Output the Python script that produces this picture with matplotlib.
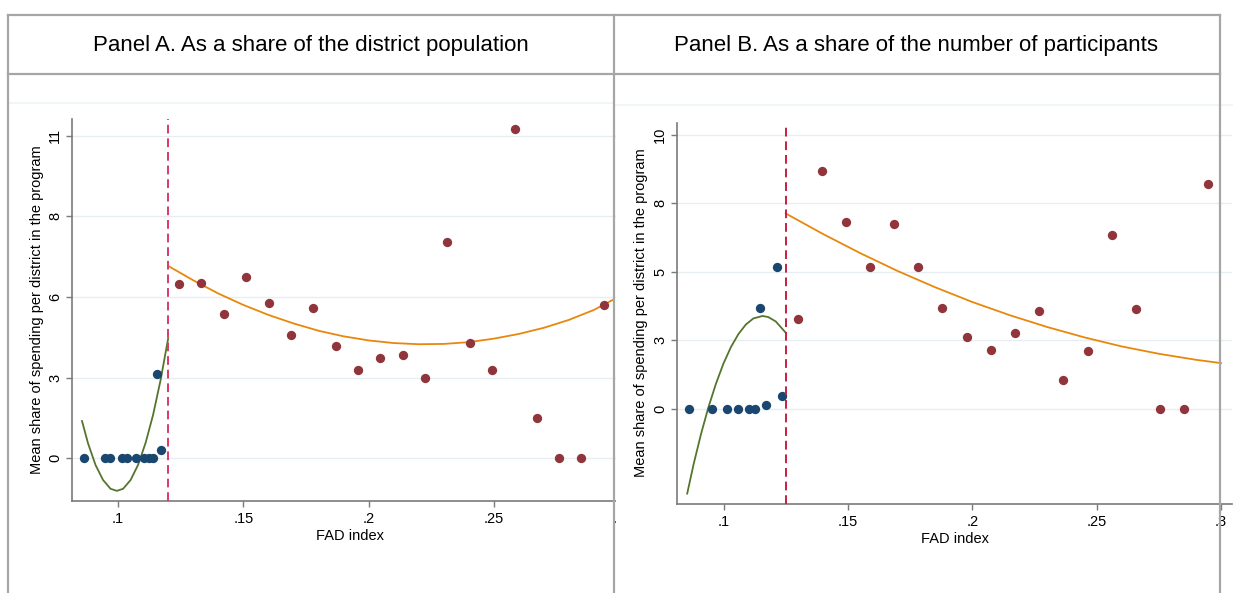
import numpy as np
import matplotlib.pyplot as plt
from matplotlib.lines import Line2D
from matplotlib.patches import Rectangle

plt.rcParams['font.family'] = ['Liberation Sans', 'DejaVu Sans']

# Panel A: share of district population
a_blue_x = [0.0864, 0.0949, 0.0968, 0.1017, 0.1036, 0.1071, 0.1104, 0.1123, 0.1140, 0.1156, 0.1173]
a_blue_y = [0, 0, 0, 0, 0, 0, 0, 0, 0, 2.86, 0.28]
a_red_x = [0.1243, 0.1332, 0.1423, 0.1511, 0.1601, 0.1690, 0.1779, 0.1869, 0.1958, 0.2047,
           0.2137, 0.2226, 0.2315, 0.2404, 0.2493, 0.2583, 0.2672, 0.2761, 0.2850, 0.2939]
a_red_y = [5.96, 5.98, 4.92, 6.19, 5.29, 4.22, 5.14, 3.83, 3.02, 3.43,
           3.53, 2.75, 7.39, 3.93, 3.00, 11.22, 1.39, 0, 0, 5.22]
a_left_fit_x = [0.0856, 0.088, 0.091, 0.094, 0.097, 0.0995, 0.102, 0.105, 0.108, 0.111, 0.114, 0.117, 0.120]
a_left_fit_y = [1.27, 0.51, -0.23, -0.74, -1.04, -1.11, -1.04, -0.74, -0.22, 0.53, 1.49, 2.68, 4.09]
a_right_fit_x = [0.120, 0.13, 0.14, 0.15, 0.16, 0.17, 0.18, 0.19, 0.20, 0.21, 0.22,
                 0.23, 0.24, 0.25, 0.26, 0.27, 0.28, 0.29, 0.2975]
a_right_fit_y = [6.56, 6.07, 5.62, 5.23, 4.89, 4.60, 4.35, 4.16, 4.02, 3.93, 3.89,
                 3.90, 3.96, 4.08, 4.24, 4.45, 4.72, 5.06, 5.40]
a_cutoff = 0.12
a_yticks = [0, 2.75, 5.5, 8.25, 11]
a_ylabels = ['0', '3', '6', '8', '11']

# Panel B: share of number of participants
b_blue_x = [0.0862, 0.0952, 0.1016, 0.1060, 0.1103, 0.1125, 0.1147, 0.1169, 0.1213, 0.1235]
b_blue_y = [0, 0, 0, 0, 0, 0, 3.67, 0.15, 5.18, 0.46]
b_red_x = [0.1298, 0.1394, 0.1491, 0.1588, 0.1685, 0.1783, 0.1879, 0.1977, 0.2074, 0.2172,
           0.2268, 0.2366, 0.2464, 0.2560, 0.2657, 0.2755, 0.2851, 0.2949]
b_red_y = [3.27, 8.66, 6.80, 5.17, 6.75, 5.17, 3.67, 2.63, 2.14, 2.76,
           3.56, 1.06, 2.10, 6.34, 3.64, 0, 0, 8.21]
b_left_fit_x = [0.0854, 0.088, 0.091, 0.094, 0.097, 0.100, 0.103, 0.106, 0.109, 0.112, 0.1157, 0.118, 0.121, 0.125]
b_left_fit_y = [-3.10, -2.02, -0.91, 0.07, 0.92, 1.65, 2.25, 2.72, 3.07, 3.29, 3.38, 3.34, 3.18, 2.77]
b_right_fit_x = [0.125, 0.14, 0.155, 0.17, 0.185, 0.20, 0.215, 0.23, 0.245, 0.26, 0.275, 0.29, 0.30]
b_right_fit_y = [7.12, 6.37, 5.67, 5.02, 4.43, 3.89, 3.41, 2.98, 2.60, 2.27, 2.00, 1.78, 1.66]
b_cutoff = 0.125
b_yticks = [0, 2.5, 5, 7.5, 10]
b_ylabels = ['0', '3', '5', '8', '10']

xticks = [0.1, 0.15, 0.2, 0.25, 0.3]
xlabels = ['.1', '.15', '.2', '.25', '.3']

navy = '#1a476f'
maroon = '#90353b'
green = '#55752f'
orange = '#e8870e'
frame = '#a6a6a6'
W, H = 1236, 593


def px_rect(left, top, right, bottom):
    return [left / W, 1 - bottom / H, (right - left) / W, (bottom - top) / H]


def draw_panel(ax, bx, by, rx, ry, lfx, lfy, rfx, rfy, cutoff, cut_color,
               yticks, ylabels, xlim, ylim):
    ax.set_xlim(*xlim)
    ax.set_ylim(*ylim)
    for t in yticks:
        ax.axhline(t, color='#e6eef1', linewidth=1.0, zorder=0)
    ax.plot(lfx, lfy, color=green, linewidth=1.3, zorder=2)
    ax.plot(rfx, rfy, color=orange, linewidth=1.3, zorder=2)
    ax.scatter(bx, by, s=45, color=navy, linewidths=0, zorder=3)
    ax.scatter(rx, ry, s=45, color=maroon, linewidths=0, zorder=3)
    ax.axvline(cutoff, color=cut_color, linewidth=1.4, linestyle=(0, (4.5, 2.5)), zorder=4)
    for s in ['top', 'right']:
        ax.spines[s].set_visible(False)
    for s in ['left', 'bottom']:
        ax.spines[s].set_color('#7a7a7a')
        ax.spines[s].set_linewidth(1.2)
    ax.set_yticks(yticks, ylabels, rotation=90, va='center')
    ax.set_xticks(xticks, xlabels)
    ax.tick_params(axis='both', colors='#7a7a7a', labelcolor='black', length=4,
                   width=1.0, labelsize=10.5)
    ax.tick_params(axis='y', pad=3)
    ax.tick_params(axis='x', pad=4)
    ax.set_facecolor('none')


fig = plt.figure(figsize=(W / 100, H / 100), dpi=100)

ax1 = fig.add_axes(px_rect(72, 119, 619, 501))
draw_panel(ax1, a_blue_x, a_blue_y, a_red_x, a_red_y, a_left_fit_x, a_left_fit_y,
           a_right_fit_x, a_right_fit_y, a_cutoff, '#d93a68', a_yticks, a_ylabels,
           (0.0816, 0.30), (-1.456, 11.57))

ax2 = fig.add_axes(px_rect(677, 123, 1232, 504))
draw_panel(ax2, b_blue_x, b_blue_y, b_red_x, b_red_y, b_left_fit_x, b_left_fit_y,
           b_right_fit_x, b_right_fit_y, b_cutoff, '#c61f3f', b_yticks, b_ylabels,
           (0.0813, 0.3044), (-3.48, 10.42))

# hide panel A overflow past the divider
fig.add_artist(Rectangle((616 / W, 0), 10 / W, 1 - 80 / H, transform=fig.transFigure,
                         facecolor='white', edgecolor='none', zorder=5))

ylab = 'Mean share of spending per district in the program'
fig.text(37 / W, 1 - 310 / H, ylab, rotation=90, ha='center', va='center', fontsize=10.5)
fig.text(641 / W, 1 - 313 / H, ylab, rotation=90, ha='center', va='center', fontsize=10.5)
fig.text(350 / W, 1 - 536 / H, 'FAD index', ha='center', va='center', fontsize=10.5)
fig.text(955 / W, 1 - 539 / H, 'FAD index', ha='center', va='center', fontsize=10.5)

fig.text(311 / W, 1 - 46 / H, 'Panel A. As a share of the district population',
         ha='center', va='center', fontsize=16)
fig.text(916 / W, 1 - 46 / H, 'Panel B. As a share of the number of participants',
         ha='center', va='center', fontsize=16)

# faint region edges below the header
fig.add_artist(Line2D([8 / W, 614 / W], [1 - 103 / H] * 2, color='#eef3f5', linewidth=1.2, zorder=6))
fig.add_artist(Line2D([614 / W, 1232 / W], [1 - 105 / H] * 2, color='#eef3f5', linewidth=1.2, zorder=6))

# table frame
for (x0, y0, x1, y1) in [(8, 15, 1220, 15), (8, 74, 1220, 74), (8, 15, 8, 593),
                         (614, 15, 614, 593), (1220, 15, 1220, 593)]:
    fig.add_artist(Line2D([x0 / W, x1 / W], [1 - y0 / H, 1 - y1 / H], color=frame,
                          linewidth=1.6, zorder=7))

fig.savefig('out.png', dpi=100)
